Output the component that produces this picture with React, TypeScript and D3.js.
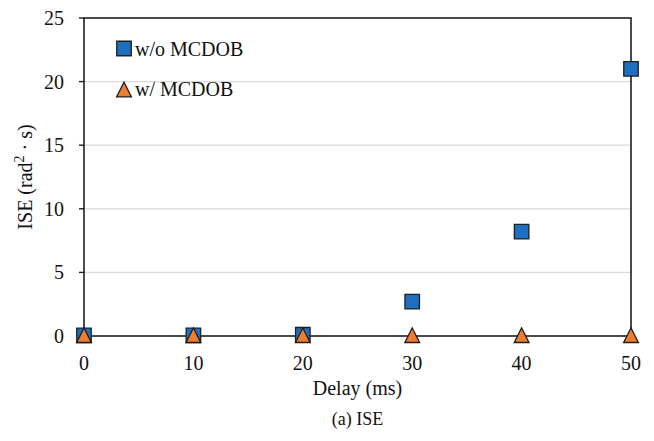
import React from "react";
import * as d3 from "d3";

// data
const delays = [0, 10, 20, 30, 40, 50];
const withoutMcdob = [0.05, 0.05, 0.1, 2.7, 8.2, 21.0];
const withMcdob = [0.03, 0.03, 0.03, 0.03, 0.03, 0.03];
const yTicks = [0, 5, 10, 15, 20, 25];
const xTicks = [0, 10, 20, 30, 40, 50];

const W = 654, H = 441;
const margin = { top: 18, right: 23, bottom: 105, left: 84 };
const FONT = "Liberation Serif, serif";
const blue = "#1f6fc1";
const orange = "#ed7d31";
const stroke = "#1e1e1e";

function T(props: any) {
  const { children, size = 20, ...rest } = props;
  return (
    <text {...rest} fontFamily={FONT} fontSize={size} fill="#111" style={{ fontFamily: FONT, fontSize: size + "px" }}>
      {children}
    </text>
  );
}

export default function App() {
  const x = d3.scaleLinear().domain([0, 50]).range([margin.left, W - margin.right]);
  const y = d3.scaleLinear().domain([0, 25]).range([H - margin.bottom, margin.top]);
  const sq = d3.symbol().type(d3.symbolSquare).size(210)();
  const tri = d3.symbol().type(d3.symbolTriangle).size(95)();
  // triangles in the original are a bit taller than equilateral and sit centred on the point
  const triT = (cx: number, cy: number) => `translate(${cx},${cy + 2}) scale(1,1.15)`;

  return (
    <svg width={W} height={H} style={{ position: "absolute", left: 0, top: 0, background: "#fff", fontFamily: FONT }}>
      {/* grid */}
      {yTicks.slice(1, -1).map(t => (
        <line key={t} x1={x(0)} x2={x(50)} y1={y(t)} y2={y(t)} stroke="#d9d9d9" strokeWidth={1.2} />
      ))}
      {/* frame */}
      <rect x={x(0)} y={y(25)} width={x(50) - x(0)} height={y(0) - y(25)} fill="none" stroke={stroke} strokeWidth={1.6} />
      {/* y ticks + labels */}
      {yTicks.map(t => (
        <g key={t}>
          <line x1={x(0) - 5} x2={x(0)} y1={y(t)} y2={y(t)} stroke={stroke} strokeWidth={1.4} />
          <T x={x(0) - 20} y={y(t)} dy="0.35em" textAnchor="end">{t}</T>
        </g>
      ))}
      {xTicks.map(t => (
        <T key={t} x={x(t)} y={y(0) + 34} textAnchor="middle">{t}</T>
      ))}
      {/* series */}
      {delays.map((d, i) => (
        <path key={"s" + d} d={sq} transform={`translate(${x(d)},${y(withoutMcdob[i])})`}
          fill={blue} stroke={stroke} strokeWidth={1.3} />
      ))}
      {delays.map((d, i) => (
        <path key={"t" + d} d={tri} transform={triT(x(d), y(withMcdob[i]))}
          fill={orange} stroke={stroke} strokeWidth={1.2} />
      ))}
      {/* legend */}
      <path d={sq} transform="translate(124,48.5)" fill={blue} stroke={stroke} strokeWidth={1.3} />
      <T x={135} y={56}>w/o MCDOB</T>
      <path d={tri} transform={triT(124, 90)} fill={orange} stroke={stroke} strokeWidth={1.2} />
      <T x={135} y={96}>w/ MCDOB</T>
      {/* axis titles */}
      <T transform={`translate(32,${(y(0) + y(25)) / 2}) rotate(-90)`} textAnchor="middle">
        ISE (rad<tspan dy="-8" fontSize={14}>2</tspan><tspan dy="8"> · s)</tspan>
      </T>
      <T x={(x(0) + x(50)) / 2} y={395} textAnchor="middle">Delay (ms)</T>
      <T x={(x(0) + x(50)) / 2} y={425} textAnchor="middle" size={18}>(a) ISE</T>
    </svg>
  );
}
